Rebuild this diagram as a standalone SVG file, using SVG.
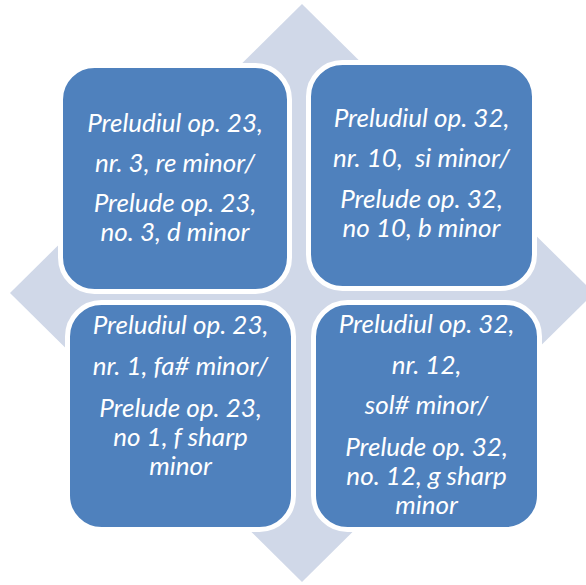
<svg xmlns="http://www.w3.org/2000/svg" width="586" height="585" viewBox="0 0 586 585">
<style>
.box{fill:#4F81BD;stroke:#FFFFFF;stroke-width:5}
.t{fill:#FFFFFF;font-family:Lato,"Noto Sans","Liberation Sans",sans-serif;font-style:italic;font-size:26px;text-anchor:middle}
</style>
<rect width="586" height="585" fill="#FFFFFF"/>
<g id="background">
<polygon points="302,4 594,293 302,582 10,293" fill="#D0D8E8"/>
</g>
<g id="node-tl">
<rect class="box" x="60.5" y="65.5" width="229" height="226" rx="34"/>
<text class="t" x="175" y="131.5">Preludiul op. 23,</text>
<text class="t" x="175" y="171.5">nr. 3, re minor/</text>
<text class="t" x="175" y="211.5">Prelude op. 23,</text>
<text class="t" x="175" y="240.5">no. 3, d minor</text>
</g>
<g id="node-tr">
<rect class="box" x="308.5" y="62.5" width="226" height="226" rx="34"/>
<text class="t" x="421.5" y="126.5">Preludiul op. 32,</text>
<text class="t" x="421.5" y="166.5" xml:space="preserve">nr. 10,  si minor/</text>
<text class="t" x="421.5" y="208">Prelude op. 32,</text>
<text class="t" x="421.5" y="237">no 10, b minor</text>
</g>
<g id="node-bl">
<rect class="box" x="67.5" y="302.5" width="226" height="227" rx="34"/>
<text class="t" x="180.5" y="334">Preludiul op. 23,</text>
<text class="t" x="180.5" y="375">nr. 1, fa# minor/</text>
<text class="t" x="180.5" y="416.5">Prelude op. 23,</text>
<text class="t" x="180.5" y="445.5">no 1, f sharp</text>
<text class="t" x="180.5" y="474.5">minor</text>
</g>
<g id="node-br">
<rect class="box" x="313.5" y="302.5" width="226" height="227" rx="34"/>
<text class="t" x="426.5" y="333">Preludiul op. 32,</text>
<text class="t" x="426.5" y="374">nr. 12,</text>
<text class="t" x="426.5" y="413.5">sol# minor/</text>
<text class="t" x="426.5" y="455.5">Prelude op. 32,</text>
<text class="t" x="426.5" y="484.5">no. 12, g sharp</text>
<text class="t" x="426.5" y="513.5">minor</text>
</g>
</svg>
